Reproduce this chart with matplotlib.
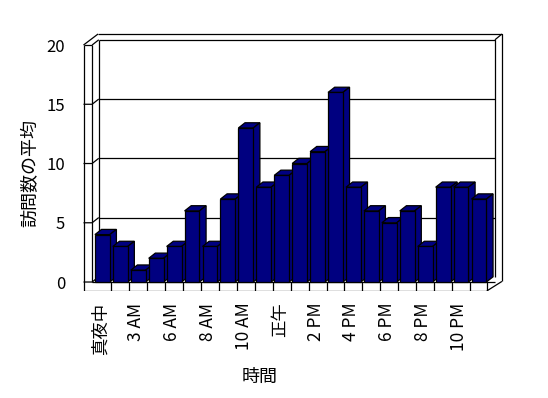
import matplotlib
matplotlib.use('Agg')
import matplotlib.pyplot as plt
import matplotlib.transforms as mtransforms
from matplotlib.patches import Polygon
import numpy as np

plt.rcParams['font.family'] = ['Noto Sans CJK JP', 'DejaVu Sans']

# 時間帯ごとの訪問数の平均 (22 本)
visits = [4, 3, 1, 2, 3, 6, 3, 7, 13, 8, 9, 10, 11, 16, 8, 6, 5, 6, 3, 8, 8, 7]
tick_labels = ['真夜中', '3 AM', '6 AM', '8 AM', '10 AM', '正午',
               '2 PM', '4 PM', '6 PM', '8 PM', '10 PM']
y_ticks = [0, 5, 10, 15, 20]

navy = '#000080'
lw = 0.9
bar_w = 0.83
dx, dy = 0.37, 0.44          # 奥行き方向のずれ (データ単位)

fig = plt.figure(figsize=(5.48, 3.98), dpi=100)
ax = fig.add_axes([0.1442, 0.2676, 0.9264 - 0.1442, 0.9226 - 0.2676])
ax.set_xlim(-1.3, 22.6)
ax.set_ylim(-0.8, 21.2)
for s in ax.spines.values():
    s.set_visible(False)

n = len(visits)
x = np.arange(n)

# 壁の座標
xl_out, xl_in = -1.05, -0.57          # 左の壁 (前面)
xb_l = xl_in + dx                     # 奥の壁 左端
xb_r, xb_r_out = 21.89, 22.28         # 奥の壁 右端 (内側 / 外側)
top = y_ticks[-1]
top_out = top + 0.93
floor_front = -0.75
x_floor_r = 21.44

def line(xs, ys, z=1):
    ax.plot(xs, ys, color='black', lw=lw, zorder=z, solid_capstyle='butt')

# 奥の壁と目盛線
for v in y_ticks[1:-1]:
    line([xb_l, xb_r], [v + dy, v + dy], z=1)
line([xb_l, xb_r, xb_r], [top + dy, top + dy, dy], z=1)
line([xb_l - 0.04, xb_r_out, xb_r_out], [top_out, top_out, 0.05], z=1)
line([xb_r, xb_r_out], [top + dy, top_out], z=1)

# 左の壁
line([xl_out, xl_out], [floor_front, top])
line([xl_in, xl_in], [0, top])
line([xb_l, xb_l], [dy, top + dy])
line([xl_out, xl_in], [top, top])
line([xl_out, xb_l - 0.04], [top, top_out])
line([xl_in, xb_l], [top, top + dy])
for v in y_ticks[:-1]:
    line([xl_out, xl_in, xb_l], [v, v, v + dy])

# 床
line([xl_out, x_floor_r], [floor_front, floor_front])
line([xl_in, xb_r], [0, 0])
line([x_floor_r, xb_r_out], [floor_front, 0.05])
for b in np.arange(0.5, n - 1, 1.0):
    line([b, b], [floor_front, 0])
line([x_floor_r, x_floor_r], [floor_front, 0])

# 棒 (前面・上面・側面)
for i, h in enumerate(visits):
    z = 3 + i
    l, r = x[i] - bar_w / 2, x[i] + bar_w / 2
    ax.add_patch(Polygon([(l, h), (r, h), (r + dx, h + dy), (l + dx, h + dy)],
                         closed=True, facecolor=navy, edgecolor='black', lw=lw, zorder=z))
    ax.add_patch(Polygon([(r, 0), (r + dx, dy), (r + dx, h + dy), (r, h)],
                         closed=True, facecolor=navy, edgecolor='black', lw=lw, zorder=z))
    ax.bar(x[i], h, width=bar_w, color=navy, edgecolor='black', lw=lw, zorder=z + 0.5)

# 目盛ラベル
ax.set_yticks(y_ticks)
ax.set_yticklabels([str(v) for v in y_ticks])
ax.tick_params(axis='y', length=0, pad=10, labelsize=12)
ax.set_xticks(x[::2])
ax.set_xticklabels(tick_labels, rotation=90, va='top', ha='center')
ax.tick_params(axis='x', length=0, pad=8, labelsize=12.5)
shift = mtransforms.ScaledTranslation(-2 / 100, 0, fig.dpi_scale_trans)
for t in ax.get_xticklabels():
    t.set_transform(t.get_transform() + shift)

fig.text(30 / 548, 1 - 173 / 398, '訪問数の平均', rotation=90,
         ha='center', va='center', fontsize=13)
fig.text(260 / 548, 1 - 377 / 398, '時間', ha='center', va='center', fontsize=13)

fig.savefig('out.png', dpi=100, facecolor='white')
